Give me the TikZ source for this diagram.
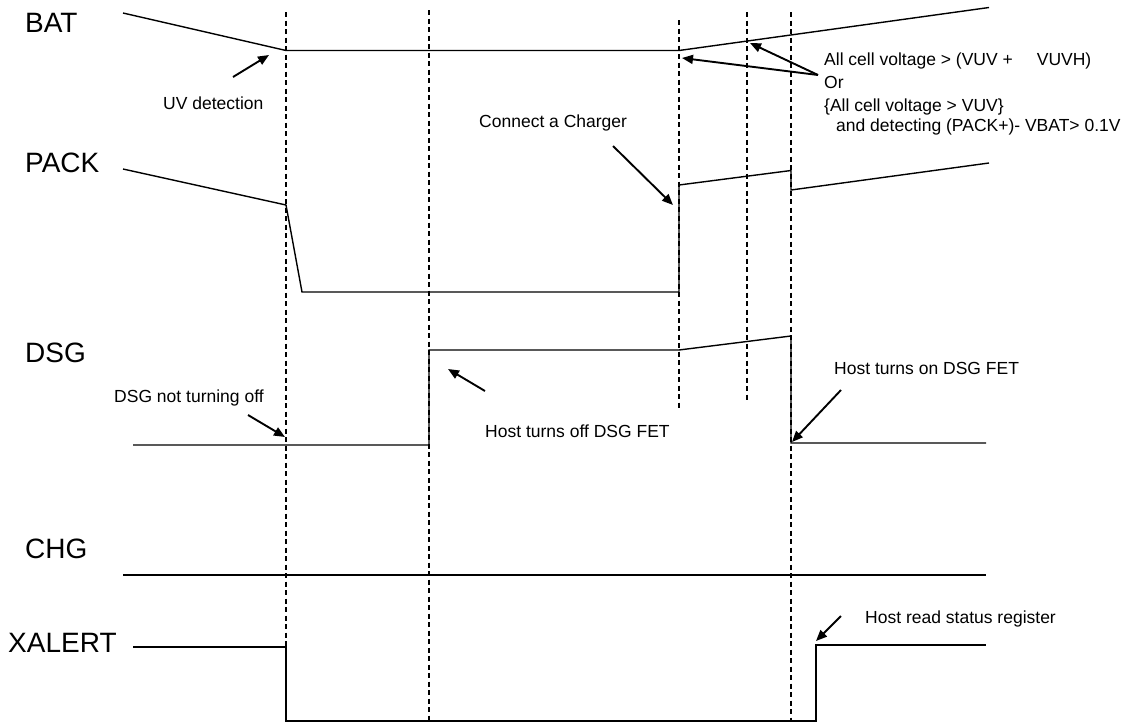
\documentclass[tikz,border=0pt]{standalone}
\usepackage{fontspec}
\setmainfont{Liberation Sans}
\usetikzlibrary{arrows.meta}
\tikzset{
  sig/.style={line width=1.4pt, line join=miter},
  guide/.style={line width=1.1pt, dash pattern=on 5pt off 3.5pt},
  callout/.style={line width=1.9pt, -{Triangle[length=11pt,width=9pt]}},
  siglabel/.style={font=\fontsize{28}{31}\selectfont, inner sep=0pt, anchor=base west},
  note/.style={font=\fontsize{17.5}{22}\selectfont, inner sep=0pt, anchor=base west},
}
\begin{document}
\begin{tikzpicture}[x=1pt,y=-1pt]
\useasboundingbox (0,0) rectangle (1133,724);
\fill[white] (0,0) rectangle (1133,724);

% guide lines
\draw[guide] (286,12) -- (286,721);
\draw[guide] (429,10) -- (429,721);
\draw[guide] (679,20) -- (679,410);
\draw[guide] (747,12) -- (747,401);
\draw[guide] (791,12) -- (791,721);

% signal labels
\node[siglabel] (lbat) at (25,32) {BAT};
\node[siglabel] (lpack) at (25,172) {PACK};
\node[siglabel] (ldsg) at (25,362) {DSG};
\node[siglabel] (lchg) at (25,558) {CHG};
\node[siglabel] (lxal) at (8,652) {XALERT};

% waveforms
\draw[sig] (123,13) -- (286,50.5) -- (679,50.5) -- (989,7.5);
\draw[sig] (123,169) -- (286,205) -- (302,292) -- (679,292) -- (679,185) -- (791,170.5) -- (791,190) -- (989,163);
\draw[sig] (133,445) -- (429,445) -- (429,350) -- (679,350) -- (791,336) -- (791,443) -- (986,443);
\draw[sig] (123,575) -- (986,575);
\draw[sig] (133,647) -- (286,647) -- (286,721) -- (816,721) -- (816,645) -- (986,645);

% annotation texts
\node[note] (uv) at (163,109) {UV detection};
\node[note] (chgr) at (479,127) {Connect a Charger};
\node[note] (c1) at (824,65) {All cell voltage > (VUV +\hspace{24pt}VUVH)};
\node[note] (c2) at (824,88) {Or};
\node[note] (c3) at (824,111) {\{All cell voltage > VUV\}};
\node[note] (c4) at (836,131) {and detecting (PACK+)- VBAT> 0.1V};
\node[note] (dnt) at (114,402) {DSG not turning off};
\node[note] (hoff) at (485,437) {Host turns off DSG FET};
\node[note] (hon) at (834,374) {Host turns on DSG FET};
\node[note] (hrd) at (865,623) {Host read status register};

% arrow endpoints
\coordinate (uvT) at (233,77);   \coordinate (uvH) at (269,55);
\coordinate (chT) at (613,146);  \coordinate (chH) at (673,205);
\coordinate (cT) at (818,75);    \coordinate (cH1) at (682,58); \coordinate (cH2) at (750,43);
\coordinate (dT) at (248,415);   \coordinate (dH) at (285,437);
\coordinate (ofT) at (485,391);  \coordinate (ofH) at (448,369);
\coordinate (onT) at (841,390);  \coordinate (onH) at (792,442);
\coordinate (rdT) at (841,616);  \coordinate (rdH) at (816,641);

\draw[callout] (uvT) -- (uvH);
\draw[callout] (chT) -- (chH);
\draw[callout] (cT) -- (cH1);
\draw[callout] (cT) -- (cH2);
\draw[callout] (dT) -- (dH);
\draw[callout] (ofT) -- (ofH);
\draw[callout] (onT) -- (onH);
\draw[callout] (rdT) -- (rdH);
\end{tikzpicture}
\end{document}
